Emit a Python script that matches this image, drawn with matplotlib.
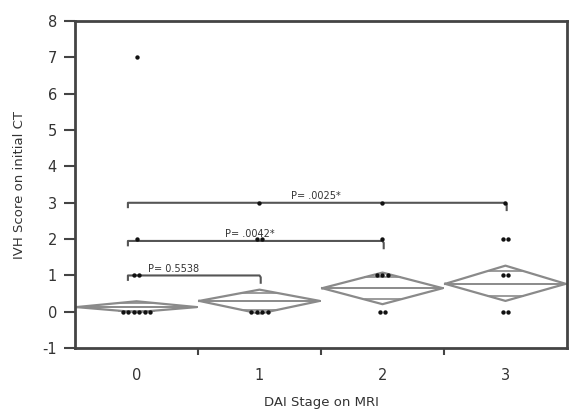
import numpy as np
import matplotlib
matplotlib.use("Agg")
import matplotlib.pyplot as plt

plt.rcParams["axes.unicode_minus"] = False

# group summary (means diamonds)
stages = [0, 1, 2, 3]
stage_labels = ["0", "1", "2", "3"]
means = [0.13, 0.30, 0.65, 0.77]
ci_low = [-0.01, -0.05, 0.21, 0.30]
ci_high = [0.29, 0.61, 1.08, 1.27]

# raw IVH scores per stage
scores_0 = [7, 2, 1, 1, 0, 0, 0, 0, 0, 0]
scores_1 = [3, 2, 2, 0, 0, 0, 0]
scores_2 = [3, 2, 1, 1, 1, 0, 0]
scores_3 = [3, 2, 2, 1, 1, 0, 0]
scores = [scores_0, scores_1, scores_2, scores_3]

# comparisons: (from stage, to stage, bracket level, label)
comp_from = [0, 0, 0]
comp_to = [1, 2, 3]
comp_level = [1.0, 1.95, 3.0]
comp_text = ["P= 0.5538", "P= .0042*", "P= .0025*"]

fig = plt.figure(figsize=(5.74, 4.13), dpi=100)
ax = fig.add_axes([0.1307, 0.157, 0.857, 0.792])

line_c = "#8a8a8a"
dark = "#333333"

# diamonds with mean line and overlap marks
for g, m, lo, hi in zip(stages, means, ci_low, ci_high):
    left, right = g - 0.49, g + 0.49
    ax.plot([left, g, right, g, left], [m, hi, m, lo, m], color=line_c, lw=1.6, zorder=2)
    ax.plot([left, right], [m, m], color=line_c, lw=1.4, zorder=2)
    for edge in (hi, lo):
        half = (edge - m) / np.sqrt(2)
        if half == 0:
            continue
        w = 0.49 * (1 - half / (edge - m))
        ax.plot([g - w, g + w], [m + half, m + half], color=line_c, lw=1.2, zorder=2)

# points
for g, vals in zip(stages, scores):
    vals = np.array(vals)
    for v in np.unique(vals):
        n = np.sum(vals == v)
        offs = (np.arange(n) - (n - 1) / 2) * 0.045
        ax.scatter(g + offs, [v] * n, s=10, color="#111111", marker="o", zorder=3, linewidths=0)

# brackets
for a, b, y, t in zip(comp_from, comp_to, comp_level, comp_text):
    x0 = a - 0.07
    x1 = b
    ax.plot([x0, x0, x1, x1 + 0.01, x1 + 0.01], [y - 0.12, y, y, y - 0.05, y - 0.2],
            color="#555555", lw=1.5, zorder=2, solid_joinstyle="round")
    if b == 1:
        ax.text(x0 + 0.16, y + 0.04, t, fontsize=7, color=dark, ha="left", va="bottom")
    else:
        ax.text((a + b) / 2 - 0.04 - 0.04 * (b == 2), y + 0.04, t, fontsize=7, color=dark,
                ha="center", va="bottom")

ax.set_xlim(-0.5, 3.5)
ax.set_ylim(-1, 8)
ax.set_yticks(range(-1, 9))
ax.set_xticks([0.5, 1.5, 2.5])
ax.set_xticklabels([])
ax.set_xticks(stages, minor=True)
ax.set_xticklabels(stage_labels, minor=True)
ax.tick_params(axis="x", which="major", direction="out", length=5, width=1.5, color="#444444")
ax.tick_params(axis="x", which="minor", length=0, pad=14, labelsize=10.5, labelcolor=dark)
ax.tick_params(axis="y", direction="out", length=8, width=1.5, color="#444444",
               labelsize=10.5, labelcolor=dark, pad=5)
for s in ax.spines.values():
    s.set_linewidth(2)
    s.set_color("#444444")

ax.set_xlabel("DAI Stage on MRI", fontsize=9.5, color=dark, labelpad=10)
ax.set_ylabel("IVH Score on initial CT", fontsize=9.5, color=dark, labelpad=12)

fig.savefig("out.png", dpi=100)
